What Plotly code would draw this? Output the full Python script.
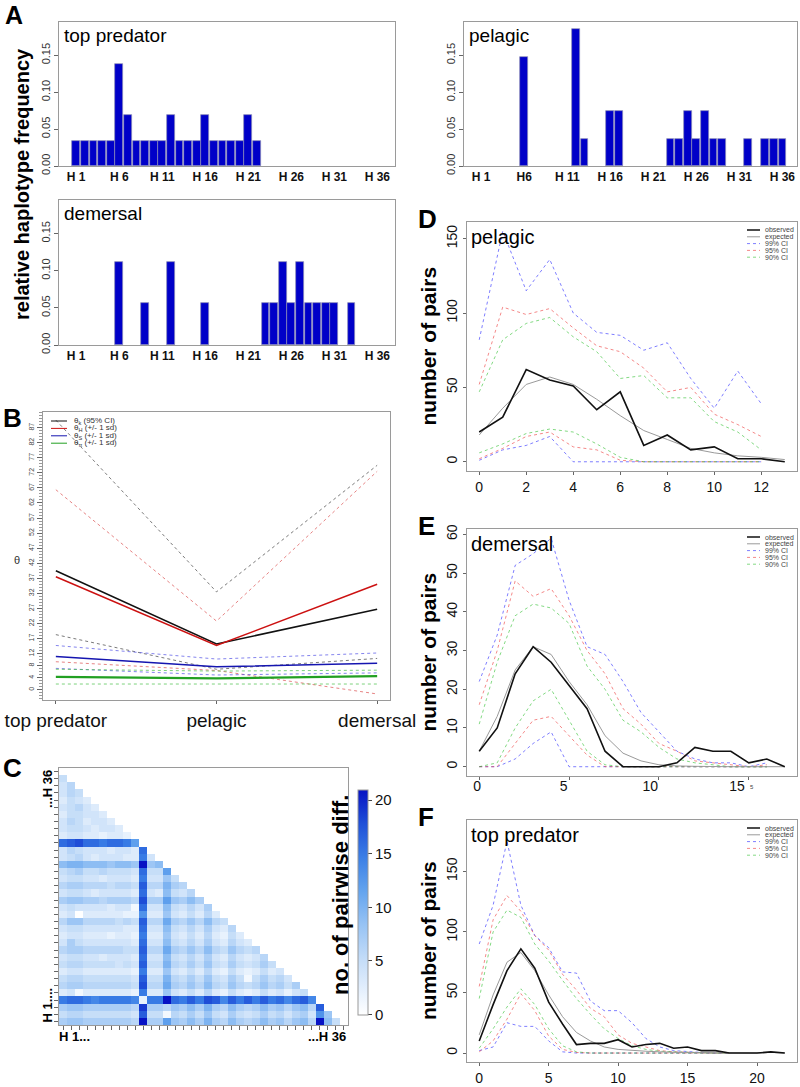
import plotly.graph_objects as go

W, H = 800, 1087
FONT = 'Liberation Sans, Arial, sans-serif'

# ---------------- data ----------------
hap = list(range(1, 37))
hap_ticks = [1, 6, 11, 16, 21, 26, 31, 36]

# A: relative haplotype frequency
freq_top = [0.034, 0.034, 0.034, 0.034, 0.034, 0.138, 0.069, 0.034, 0.034, 0.034,
            0.034, 0.069, 0.034, 0.034, 0.034, 0.069, 0.034, 0.034, 0.034, 0.034,
            0.069, 0.034, 0, 0, 0, 0, 0, 0, 0, 0, 0, 0, 0, 0, 0, 0]
freq_pel = [0, 0, 0, 0, 0, 0.148, 0, 0, 0, 0, 0, 0.185, 0.037, 0, 0, 0.074, 0.074, 0,
            0, 0, 0, 0, 0.037, 0.037, 0.074, 0.037, 0.074, 0.037, 0.037, 0, 0, 0.037,
            0, 0.037, 0.037, 0.037]
freq_dem = [0, 0, 0, 0, 0, 0.111, 0, 0, 0.056, 0, 0, 0.111, 0, 0, 0, 0.056, 0, 0,
            0, 0, 0, 0, 0.056, 0.056, 0.111, 0.056, 0.111, 0.056, 0.056, 0.056, 0.056,
            0, 0.056, 0, 0, 0]

# B: theta estimators
b_cats = ['top predator', 'pelagic', 'demersal']
theta_k = [39.5, 15.2, 26.7]
theta_k_lo = [18.3, 6.8, 10.4]
theta_k_hi = [89.5, 32.5, 74.5]
theta_h = [37.5, 14.7, 35.0]
theta_h_lo = [9.3, 6.4, -1.4]
theta_h_hi = [66.4, 22.8, 72.5]
theta_s = [11.0, 7.6, 8.8]
theta_s_lo = [7.1, 4.9, 5.6]
theta_s_hi = [14.7, 10.2, 12.2]
theta_pi = [4.3, 3.8, 4.5]
theta_pi_lo = [1.9, 1.9, 1.9]
theta_pi_hi = [6.8, 6.2, 6.5]
b_ticks = [0, 4, 8, 12, 17, 22, 27, 32, 37, 42, 47, 52, 57, 62, 67, 72, 77, 82, 87]

# C: pairwise differences, rows listed from the top row down (row 1 is empty)
pair_rows = [
    [5],
    [4, 6],
    [4, 6, 5],
    [3, 5, 4, 3],
    [4, 5, 6, 4, 3],
    [3, 5, 5, 4, 4, 3],
    [4, 6, 5, 3, 4, 4, 3],
    [4, 5, 5, 4, 3, 4, 4, 3],
    [3, 4, 4, 3, 3, 2, 3, 3, 2],
    [16, 17, 18, 16, 16, 15, 16, 16, 15, 12],
    [4, 6, 5, 4, 4, 4, 3, 4, 4, 3, 16],
    [4, 5, 6, 4, 3, 4, 4, 4, 3, 3, 15, 4],
    [9, 10, 10, 9, 9, 9, 8, 9, 9, 8, 21, 8, 9],
    [5, 6, 7, 5, 5, 6, 5, 5, 5, 4, 16, 5, 5, 12],
    [4, 5, 5, 4, 4, 3, 4, 4, 4, 3, 15, 4, 4, 8, 5],
    [6, 7, 7, 6, 6, 6, 5, 6, 6, 5, 17, 6, 6, 10, 7, 6],
    [4, 5, 5, 4, 3, 4, 4, 4, 4, 3, 16, 4, 3, 9, 5, 4, 6],
    [7, 8, 8, 7, 7, 6, 7, 7, 7, 6, 18, 7, 7, 12, 8, 7, 9, 7],
    [4, 5, 4, 4, 4, 4, 3, 4, 4, 1, 16, 4, 4, 9, 5, 4, 6, 4, 7],
    [3, 4, 0, 3, 3, 3, 3, 3, 2, 2, 13, 3, 3, 8, 4, 3, 5, 3, 6, 3],
    [6, 8, 8, 6, 6, 6, 6, 5, 6, 5, 17, 6, 6, 11, 7, 6, 8, 6, 9, 6, 5],
    [4, 5, 5, 4, 4, 4, 4, 4, 3, 3, 16, 4, 4, 9, 5, 4, 6, 4, 7, 4, 3, 6],
    [3, 4, 4, 3, 3, 3, 2, 3, 3, 2, 15, 3, 3, 8, 4, 3, 5, 3, 6, 3, 2, 5, 3],
    [4, 7, 5, 4, 4, 4, 4, 4, 4, 3, 16, 4, 4, 9, 5, 4, 6, 4, 7, 4, 3, 6, 4, 3],
    [6, 7, 7, 6, 6, 6, 6, 6, 5, 5, 17, 6, 6, 11, 7, 6, 8, 6, 9, 6, 5, 8, 6, 5, 6],
    [4, 5, 5, 4, 4, 3, 4, 4, 4, 3, 16, 4, 4, 9, 5, 4, 6, 4, 7, 4, 3, 6, 4, 3, 4, 6],
    [5, 6, 6, 5, 5, 5, 5, 4, 5, 4, 17, 5, 5, 10, 6, 5, 7, 5, 8, 5, 4, 7, 5, 4, 5, 7, 5],
    [3, 4, 4, 3, 3, 3, 3, 3, 3, 2, 15, 3, 3, 8, 4, 3, 5, 3, 6, 3, 2, 5, 3, 2, 3, 5, 3, 4],
    [5, 6, 6, 5, 5, 5, 5, 5, 5, 4, 17, 5, 5, 10, 6, 5, 7, 5, 8, 5, 4, 7, 5, 1, 5, 7, 5, 6, 4],
    [6, 7, 7, 6, 6, 6, 6, 6, 6, 5, 18, 6, 6, 11, 7, 6, 8, 6, 9, 6, 5, 8, 6, 5, 6, 8, 6, 7, 5, 7],
    [3, 4, 1, 3, 3, 3, 3, 3, 3, 2, 15, 3, 3, 8, 4, 3, 5, 3, 6, 3, 2, 5, 3, 2, 3, 5, 3, 4, 2, 4, 5],
    [15, 16, 16, 15, 14, 15, 15, 15, 15, 14, 2, 15, 15, 21, 16, 15, 17, 15, 18, 17, 14, 17, 15, 17,
     15, 17, 15, 16, 14, 16, 17, 14],
    [7, 8, 8, 7, 7, 7, 7, 7, 7, 6, 19, 7, 7, 6, 8, 7, 9, 7, 10, 7, 6, 9, 7, 6, 7, 9, 7, 8, 6, 8,
     9, 6, 17],
    [5, 6, 6, 5, 5, 5, 5, 5, 5, 4, 17, 5, 5, 1, 6, 5, 7, 5, 8, 5, 4, 7, 5, 4, 5, 7, 5, 6, 4, 6,
     7, 4, 13, 8],
    [7, 8, 8, 7, 7, 7, 7, 7, 7, 6, 21, 7, 7, 12, 8, 7, 9, 7, 10, 7, 6, 9, 7, 6, 7, 9, 7, 8, 6, 8,
     9, 6, 21, 9, 5],
]

# D: pelagic mismatch distribution
d_x = list(range(0, 14))
d_obs = [20, 30, 62, 55, 51, 35, 47, 11, 18, 8, 10, 2, 2, 0]
d_exp = [18, 36, 52, 57, 52, 42, 31, 21, 15, 9, 6, 4, 3, 1.5]
d_ci_x = list(range(0, 13))
d_99_hi = [82, 155, 115, 136, 100, 87, 85, 75, 80, 56, 36, 61, 39]
d_99_lo = [1, 8, 11, 17, 0, 0, 0, 0, 0, 0, 0, 0, 0]
d_95_hi = [52, 104, 99, 103, 90, 78, 74, 63, 47, 50, 32, 25, 17]
d_95_lo = [2, 9, 17, 20, 10, 8, 1, 0, 0, 0, 0, 0, 0]
d_90_hi = [47, 82, 93, 97, 84, 74, 56, 58, 43, 43, 27, 20, 8]
d_90_lo = [6, 12, 19, 22, 20, 12, 3, 0, 0, 0, 0, 0, 0]

# E: demersal
e_x = list(range(0, 18))
e_obs = [4, 10, 24, 31, 27, 21, 15, 4, 0, 0, 0, 1, 5, 4, 4, 1, 2, 0]
e_exp = [4, 13, 25, 31, 29, 22, 16, 8, 3.5, 1.5, 0.5, 0.2, 0.1, 0, 0, 0, 0, 0]
e_ci_x = list(range(0, 17))
e_99_hi = [22, 34, 52, 55, 59, 43, 31, 29, 22, 14, 9, 4, 2, 1, 1, 0, 1]
e_99_lo = [0, 0, 2, 6, 9, 0, 0, 0, 0, 0, 0, 0, 0, 0, 0, 0, 0]
e_95_hi = [16, 30, 48, 44, 46, 39, 30, 24, 15, 11, 6, 4, 1.5, 1, 0.5, 0, 0.5]
e_95_lo = [0, 0, 6, 12, 13, 8, 3, 0, 0, 0, 0, 0, 0, 0, 0, 0, 0]
e_90_hi = [11, 27, 39, 42, 41, 37, 26, 20, 12, 9, 5, 2, 1, 0.5, 0, 0, 0]
e_90_lo = [0, 1, 10, 17, 20, 12, 4, 0.5, 0, 0, 0, 0, 0, 0, 0, 0, 0]

# F: top predator
f_x = list(range(0, 23))
f_obs = [10, 40, 68, 86, 70, 42, 24, 7, 8, 8, 11, 5, 7, 8, 4, 5, 2, 2, 0, 0, 0, 1, 0]
f_exp = [15, 48, 75, 83, 68, 48, 30, 17, 10, 5, 3, 2, 1.5, 1, 0.5, 0.3, 0.2, 0.1, 0, 0, 0, 0.5, 0]
f_ci_x = list(range(0, 19))
f_99_hi = [90, 122, 175, 122, 97, 87, 67, 66, 43, 35, 35, 25, 12, 5, 2, 1, 0.5, 0, 0]
f_99_lo = [2, 5, 25, 22, 22, 10, 1, 0, 0, 0, 0, 0, 0, 0, 0, 0, 0, 0, 0]
f_95_hi = [55, 110, 130, 117, 97, 85, 65, 52, 37, 30, 15, 8, 5, 2, 1, 0.5, 0, 0, 0]
f_95_lo = [1, 10, 28, 49, 35, 14, 3, 0.5, 0, 0, 0, 0, 0, 0, 0, 0, 0, 0, 0]
f_90_hi = [45, 100, 118, 112, 90, 76, 60, 45, 32, 20, 12, 6, 3, 1.5, 1, 0.5, 0, 0, 0]
f_90_lo = [4, 20, 38, 53, 40, 20, 6, 1, 0, 0, 0, 0, 0, 0, 0, 0, 0, 0, 0]


# ---------------- helpers ----------------
def dx(l, r):
    return [l / W, r / W]


def dy(t, b):
    return [1 - b / H, 1 - t / H]


def px(x):
    return x / W


def py(y):
    return 1 - y / H


annotations = []
shapes = []


def ann(text, x, y, size, xa='center', ya='middle', angle=0, bold=False, color='black'):
    annotations.append(dict(
        text=text, x=px(x), y=py(y), xref='paper', yref='paper', showarrow=False,
        xanchor=xa, yanchor=ya, textangle=angle,
        font=dict(size=size, family=FONT, color=color, weight='bold' if bold else 'normal')))


def box_axis(**kw):
    base = dict(showline=True, mirror=True, linecolor='#9a9a9a', linewidth=1,
                showgrid=False, zeroline=False, ticks='outside', ticklen=4, automargin=False,
                tickcolor='#666', tickfont=dict(size=13, family=FONT, color='#222'))
    base.update(kw)
    return base


fig = go.Figure()
layout = {}

# ---------------- A: bar panels ----------------
A_LABELS = ['H 1', 'H 6', 'H 11', 'H 16', 'H 21', 'H 26', 'H 31', 'H 36']
bar_panels = [
    ('top predator', freq_top, 59, 395, 22, 166, [-1.0, 38.05], A_LABELS),
    ('pelagic', freq_pel, 464, 797, 22, 166, [-1.0, 37.7], ['H 1', 'H6'] + A_LABELS[2:]),
    ('demersal', freq_dem, 59, 395, 200, 345, [-1.0, 38.05], A_LABELS),
]
n = 0
for name, vals, l, r, t, b, xr, labels in bar_panels:
    n += 1
    sx = '' if n == 1 else str(n)
    fig.add_trace(go.Bar(x=hap, y=[v if v > 0 else None for v in vals], width=0.9,
                         marker=dict(color='#0000C8', line=dict(color='#8c8cb4', width=0.7)),
                         xaxis='x' + sx, yaxis='y' + sx, showlegend=False))
    layout['xaxis' + sx] = box_axis(domain=dx(l, r), range=xr, anchor='y' + sx, tickmode='array', tickvals=hap_ticks,
                                    ticktext=labels, ticks='', ticklen=0,
                                    tickfont=dict(size=12, family=FONT, color='#111', weight='bold'))
    layout['yaxis' + sx] = box_axis(domain=dy(t, b), range=[0, 0.195], anchor='x' + sx, tickmode='array',
                                    tickvals=[0, 0.05, 0.10, 0.15], ticktext=['0.00', '0.05', '0.10', '0.15'],
                                    tickangle=-90, tickfont=dict(size=11, family=FONT, color='#333'))
    ann(name, l + 3, t + 1, 19, xa='left', ya='top')

ann('relative haplotype frequency', 22, 184, 20, angle=-90, bold=True)
ann('A', 3, 15, 25, xa='left', bold=True)

# ---------------- B: theta lines ----------------
n += 1
sb = str(n)
b_x = [0, 1, 2]
b_series = [
    (theta_k, theta_k_lo, theta_k_hi, '#111111', '#7a7a7a', 1.5),
    (theta_h, theta_h_lo, theta_h_hi, '#cc1111', 'rgba(220,80,80,0.7)', 1.5),
    (theta_s, theta_s_lo, theta_s_hi, '#1515b0', 'rgba(80,80,230,0.7)', 1.5),
    (theta_pi, theta_pi_lo, theta_pi_hi, '#22a022', 'rgba(70,190,70,0.7)', 2.2),
]
for mid, lo, hi, col, ccol, wd in b_series:
    for s in (lo, hi):
        fig.add_trace(go.Scatter(x=b_x, y=s, mode='lines', line=dict(color=ccol, width=1, dash='dot'),
                                 xaxis='x' + sb, yaxis='y' + sb, showlegend=False))
    fig.add_trace(go.Scatter(x=b_x, y=mid, mode='lines', line=dict(color=col, width=wd),
                             xaxis='x' + sb, yaxis='y' + sb, showlegend=False))
layout['xaxis' + sb] = box_axis(domain=dx(43, 390), range=[-0.08, 2.08], anchor='y' + sb, tickmode='array',
                                tickvals=b_x, ticktext=b_cats, ticklen=3,
                                tickfont=dict(size=19, family=FONT, color='#111'))
layout['yaxis' + sb] = box_axis(domain=dy(412, 700), range=[-3.4, 92.2], anchor='x' + sb, tickmode='array',
                                tickvals=b_ticks, ticktext=[str(v) for v in b_ticks], tickangle=-90, ticklen=5,
                                tickfont=dict(size=7, family=FONT, color='#444'),
                                minor=dict(dtick=1, tick0=0, ticks='outside', ticklen=3, tickcolor='#999'))
ann('θ', 17, 560, 11, color='#333')
ann('B', 1, 418, 26, xa='left', bold=True)
b_leg = [('θ<sub>k</sub> (95% CI)', '#111111'), ('θ<sub>H</sub> (+/- 1 sd)', '#cc1111'),
         ('θ<sub>S</sub> (+/- 1 sd)', '#1515b0'), ('θ<sub>π</sub> (+/- 1 sd)', '#22a022')]
for i, (txt, c) in enumerate(b_leg):
    yy = 421 + i * 7.4
    shapes.append(dict(type='line', xref='paper', yref='paper', x0=px(51), x1=px(67), y0=py(yy), y1=py(yy),
                       line=dict(color=c, width=1)))
    ann(txt, 72, yy, 8, xa='left', color='#333')

# ---------------- C: heatmap ----------------
n += 1
sc = str(n)
z = []
for yv in hap:
    t = 37 - yv
    row = pair_rows[t - 2] if t >= 2 else []
    z.append(list(row) + [None] * (36 - len(row)))
pair_scale = [[0.0, '#ffffff'], [0.12, '#e2eefc'], [0.25, '#c3dcf8'], [0.4, '#97c3f4'],
              [0.55, '#64a4ee'], [0.7, '#3b7fe6'], [0.85, '#1f50d8'], [1.0, '#0712c4']]
fig.add_trace(go.Heatmap(z=z, x=hap, y=hap, zmin=0, zmax=21, colorscale=pair_scale, hoverongaps=False,
                         xaxis='x' + sc, yaxis='y' + sc,
                         colorbar=dict(x=px(358), xanchor='left', y=py(902), yanchor='middle',
                                       len=225 / H, lenmode='fraction', thickness=10, thicknessmode='pixels',
                                       xpad=0, ypad=0, outlinecolor='#999', outlinewidth=1,
                                       tickvals=[0, 5, 10, 15, 20], ticks='outside', ticklen=4,
                                       tickfont=dict(size=15, family=FONT, color='#111'))))
layout['xaxis' + sc] = box_axis(domain=dx(59, 348), range=[0.5, 36.5], anchor='y' + sc, tickmode='array',
                                tickvals=hap, showticklabels=False, ticklen=4)
layout['yaxis' + sc] = box_axis(domain=dy(768, 1025), range=[0.5, 36.5], anchor='x' + sc, tickmode='array',
                                tickvals=hap, showticklabels=False, ticklen=4)
ann('H 1...', 57, 1036, 13, xa='left', bold=True)
ann('...H 36', 348, 1036, 13, xa='right', bold=True)
ann('...H 36', 47, 768, 13, ya='top', angle=-90, bold=True)
ann('H 1....', 47, 1025, 13, ya='bottom', angle=-90, bold=True)
ann('no. of pairwise diff.', 340, 895, 22, angle=-90, bold=True)
ann('C', 1, 768, 26, xa='left', bold=True)

# ---------------- D/E/F: mismatch distributions ----------------
# the E panel prints its tick labels on a slightly different scale than the data
mm_panels = [
    ('D', 'pelagic', d_x, d_obs, d_exp, d_ci_x, (d_99_lo, d_99_hi), (d_95_lo, d_95_hi), (d_90_lo, d_90_hi),
     222, 471, [-0.52, 13.52], [-6.2, 161.2], [0, 2, 4, 6, 8, 10, 12], [0, 50, 100, 150], None),
    ('E', 'demersal', e_x, e_obs, e_exp, e_ci_x, (e_99_lo, e_99_hi), (e_95_lo, e_95_hi), (e_90_lo, e_90_hi),
     529, 776, [-0.68, 17.68], [-2.4, 61.4], [0, 5, 10, 15], [0, 10, 20, 30, 40, 50, 60], [-0.58, 18.46]),
    ('F', 'top predator', f_x, f_obs, f_exp, f_ci_x, (f_99_lo, f_99_hi), (f_95_lo, f_95_hi), (f_90_lo, f_90_hi),
     820, 1062, [-0.88, 22.88], [-7.4, 192.4], [0, 5, 10, 15, 20], [0, 50, 100, 150], None),
]
ci_cols = ['rgba(40,40,255,0.6)', 'rgba(235,40,40,0.55)', 'rgba(30,185,30,0.55)']
leg_items = [('observed', '#111111', 1.5, 'solid'), ('expected', '#9a9a9a', 1, 'solid'),
             ('99% CI', ci_cols[0], 1, 'dot'), ('95% CI', ci_cols[1], 1, 'dot'), ('90% CI', ci_cols[2], 1, 'dot')]
for letter, title, xs, obs, exp, cx, c99, c95, c90, top, bot, xr, yr, xt, yt, lab_r in mm_panels:
    n += 1
    s = str(n)
    for (lo, hi), col in zip((c99, c95, c90), ci_cols):
        for ser in (lo, hi):
            fig.add_trace(go.Scatter(x=cx, y=ser, mode='lines', line=dict(color=col, width=1, dash='dot'),
                                     xaxis='x' + s, yaxis='y' + s, showlegend=False))
    fig.add_trace(go.Scatter(x=xs, y=exp, mode='lines', line=dict(color='#9a9a9a', width=1),
                             xaxis='x' + s, yaxis='y' + s, showlegend=False))
    fig.add_trace(go.Scatter(x=xs, y=obs, mode='lines', line=dict(color='#111111', width=1.6),
                             xaxis='x' + s, yaxis='y' + s, showlegend=False))
    layout['xaxis' + s] = box_axis(domain=dx(467, 797), range=xr, anchor='y' + s, tickmode='array', tickvals=xt,
                                   ticklen=3, showticklabels=lab_r is None,
                                   tickfont=dict(size=14, family=FONT, color='#111'))
    layout['yaxis' + s] = box_axis(domain=dy(top, bot), range=yr, anchor='x' + s, tickmode='array', tickvals=yt,
                                   ticklen=3, tickangle=-90, tickfont=dict(size=14, family=FONT, color='#111'))
    if lab_r is not None:
        layout['xaxis20'] = dict(overlaying='x' + s, anchor='y' + s, side='bottom', range=lab_r,
                                 showline=False, showgrid=False, zeroline=False, ticks='', ticklen=0,
                                 tickmode='array', tickvals=xt, tickfont=dict(size=14, family=FONT, color='#111'))
        fig.add_trace(go.Scatter(x=[], y=[], xaxis='x20', yaxis='y' + s, showlegend=False))
    ann(title, 469, top + 2, 20, xa='left', ya='top')
    ann('number of pairs', 428, (top + bot) / 2, 21, angle=-90, bold=True)
    ann(letter, 416, top - 3, 26, xa='left', bold=True)
    for i, (txt, c, wd, ds) in enumerate(leg_items):
        yy = top + 8 + i * 6.8
        shapes.append(dict(type='line', xref='paper', yref='paper', x0=px(747), x1=px(760), y0=py(yy), y1=py(yy),
                           line=dict(color=c, width=wd, dash=ds)))
        ann(txt, 763, yy, 7, xa='left', color='#444')
ann('5', 752, 787, 6, color='#444')

fig.update_layout(**layout)
fig.update_layout(width=W, height=H, margin=dict(l=0, r=0, t=0, b=0, autoexpand=False), paper_bgcolor='white',
                  plot_bgcolor='white', bargap=0, showlegend=False, annotations=annotations, shapes=shapes,
                  font=dict(family=FONT))
fig.write_html('out.html', config={'displayModeBar': False},
               post_script="document.body.style.margin='0';document.body.style.overflow='hidden';")
